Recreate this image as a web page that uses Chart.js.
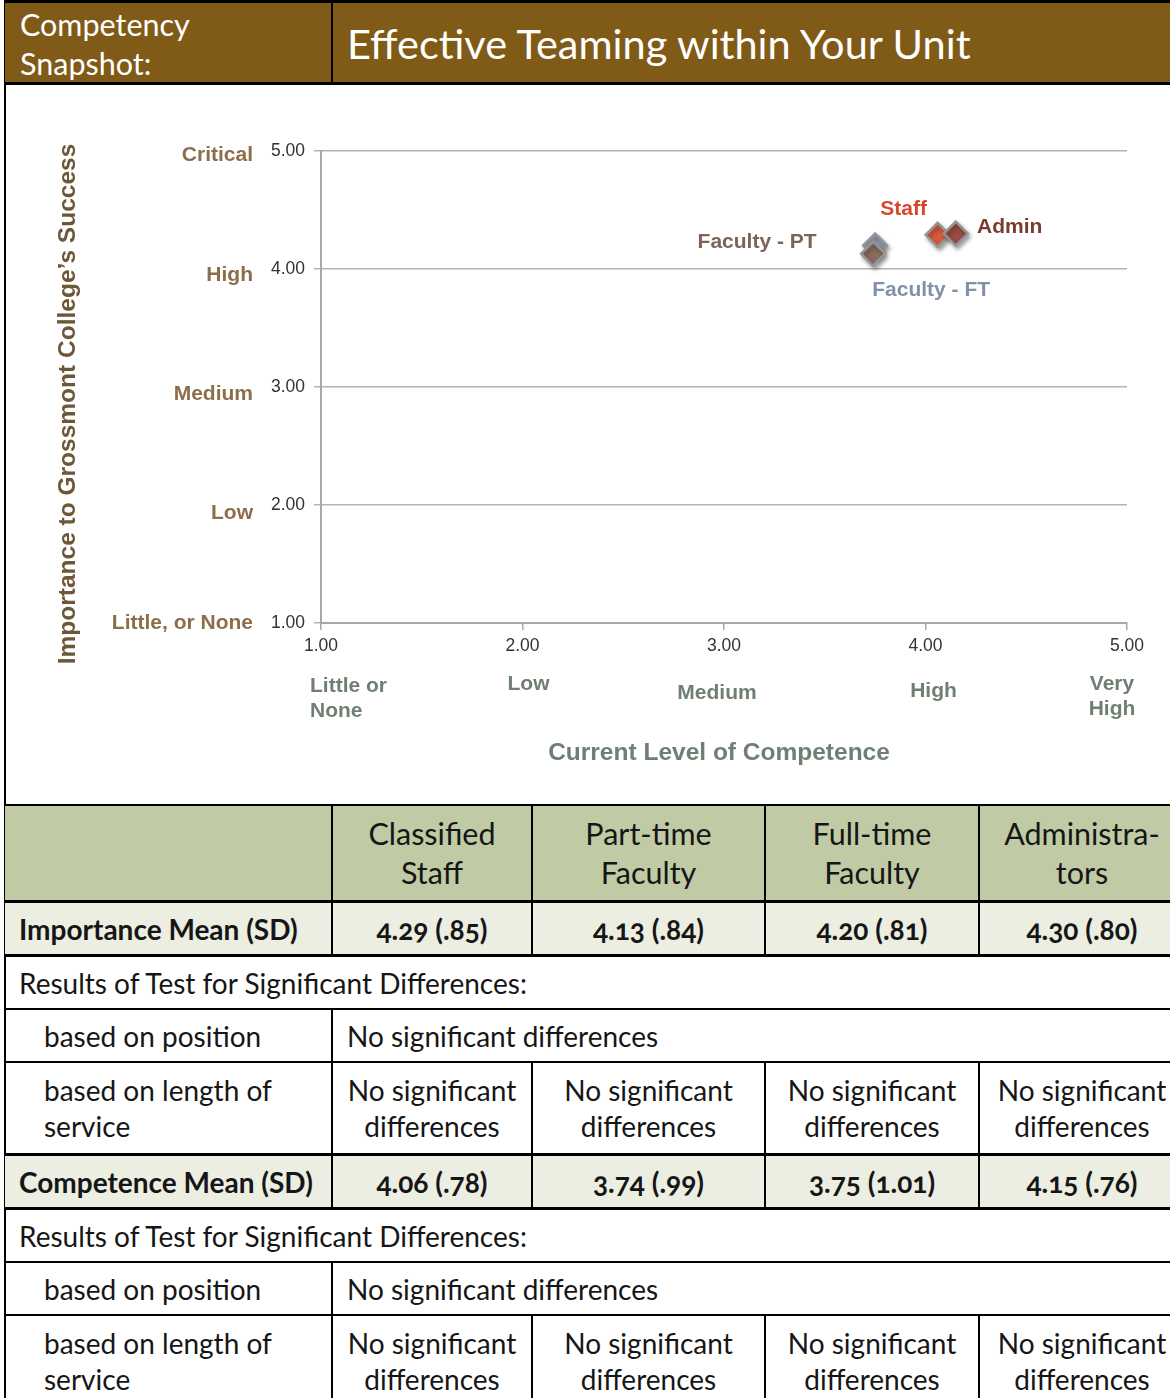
<!DOCTYPE html>
<html>
<head>
<meta charset="utf-8">
<script src="https://cdn.jsdelivr.net/npm/chart.js@4.4.1/dist/chart.umd.min.js"></script>
<style>
  html, body { margin: 0; padding: 0; background: #fff; }
  body { width: 1170px; height: 1398px; overflow: hidden; position: relative; font-family: Lato, "Open Sans", sans-serif; }
  .frame { position: absolute; left: 4px; top: 0; width: 1180px; height: 1420px; border-left: 2px solid #000; border-top: 3px solid #000; box-sizing: border-box; }
  .head { position: absolute; left: 5px; top: 3px; width: 1170px; height: 79px; background: #805b18; border-bottom: 3px solid #000; }
  .head .lbl { position: absolute; left: 15px; top: 2px; color: #fff; font-size: 30.5px; line-height: 39px; }
  .head .sep { position: absolute; left: 326px; top: 0; width: 2px; height: 79px; background: #000; }
  .head .ttl { position: absolute; left: 342px; top: 16px; color: #fff; font-size: 41.5px; line-height: 48px; }
  .chartbox { position: absolute; left: 5px; top: 85px; width: 1165px; height: 719px; }
  table { position: absolute; left: 5px; top: 804px; border-collapse: collapse; table-layout: fixed; width: 1180px; color: #161616; }
  td { border: 2px solid #000; padding: 0; font-size: 28px; }
  tr.hd td { background: #c0cba5; height: 94px; text-align: center; font-size: 30.5px; line-height: 39px; border-bottom: 3px solid #000; }
  tr.mean td { background: #ebeee1; height: 51px; text-align: center; font-weight: bold; font-size: 28px; }
  tr.mean td.rl { text-align: left; padding-left: 14px; }
  tr.res td { height: 51px; padding-left: 14px; }
  tr.pos td { height: 51px; }
  tr.pos td.rl { padding-left: 39px; }
  tr.pos td.v { padding-left: 14px; }
  tr.len td { height: 90px; text-align: center; line-height: 36px; }
  tr.len td.rl { text-align: left; padding-left: 39px; }
  tr.thick td { border-bottom: 3px solid #000; }
  td:first-child { border-left: none; }
  .num { font-feature-settings: "onum" 1; }
</style>
</head>
<body>
<div class="frame"></div>
<div class="head">
  <div class="lbl">Competency<br>Snapshot:</div>
  <div class="sep"></div>
  <div class="ttl">Effective Teaming within Your Unit</div>
</div>
<div class="chartbox"><canvas id="c" width="1165" height="719"></canvas></div>
<table id="tbl"></table>
<script>
// Group means: x = current level of competence, y = importance to the college
const groups = ["Staff", "Faculty - PT", "Faculty - FT", "Admin"];
const competence = [4.06, 3.74, 3.75, 4.15];
const importance = [4.29, 4.13, 4.20, 4.30];

const importanceSD = [".85", ".84", ".81", ".80"];
const competenceSD = [".78", ".99", "1.01", ".76"];

const tickValues = [1, 2, 3, 4, 5];
const importanceLevels = ["Little, or None", "Low", "Medium", "High", "Critical"];
const competenceLevels = [["Little or", "None"], ["Low"], ["Medium"], ["High"], ["Very", "High"]];

const columnHeads = [["Classified", "Staff"], ["Part-time", "Faculty"], ["Full-time", "Faculty"], ["Administra-", "tors"]];
const columnOrder = [0, 1, 2, 3];
const noDiff = "No significant differences";

// marker + label styling per group
const markerFill = ["#d95a3e", "#8a6b5f", "#8fa1b8", "#9a4e42"];
const labelColor = ["#d9472b", "#7c6558", "#8091a8", "#7b3b30"];
const labelShift = [[-34, -26], [-116, -11], [56, 45], [54, -6]];
const drawOrder = [1, 2, 3, 0];

const datasets = groups.map((g, i) => ({
  label: g,
  data: [{ x: competence[i], y: importance[i] }],
  pointStyle: "rectRot",
  radius: 12,
  hoverRadius: 12,
  backgroundColor: markerFill[i],
  borderColor: "#959595",
  borderWidth: 2.5,
  order: drawOrder[i]
}));

const FONT = "'Liberation Sans', Arial, sans-serif";

const annotate = {
  id: "annotate",
  beforeDatasetsDraw(chart) {
    const ctx = chart.ctx;
    ctx.save();
    ctx.shadowColor = "rgba(0,0,0,0.35)";
    ctx.shadowBlur = 4;
    ctx.shadowOffsetX = 2;
    ctx.shadowOffsetY = 3;
  },
  afterDatasetsDraw(chart) {
    const ctx = chart.ctx;
    ctx.restore();
    const xs = chart.scales.x, ys = chart.scales.y;
    ctx.save();
    // group labels beside their markers
    ctx.font = "bold 21px " + FONT;
    ctx.textAlign = "center";
    ctx.textBaseline = "middle";
    groups.forEach((g, i) => {
      const px = xs.getPixelForValue(competence[i]);
      const py = ys.getPixelForValue(importance[i]);
      ctx.fillStyle = labelColor[i];
      ctx.fillText(g, px + labelShift[i][0], py + labelShift[i][1]);
    });
    // importance scale words
    ctx.fillStyle = "#8c6e48";
    ctx.textAlign = "right";
    const yShift = [0, 8, 7, 6, 4];
    importanceLevels.forEach((t, i) => {
      ctx.fillText(t, 248, ys.getPixelForValue(tickValues[i]) + yShift[i]);
    });
    // competence scale words
    ctx.fillStyle = "#6f8073";
    const xShift = [[-11, 63, "left"], [6, 61, "center"], [-7, 70, "center"], [8, 68, "center"], [-15, 61, "center"]];
    competenceLevels.forEach((lines, i) => {
      const px = xs.getPixelForValue(tickValues[i]) + xShift[i][0];
      const py = ys.bottom + xShift[i][1];
      ctx.textAlign = xShift[i][2];
      lines.forEach((ln, k) => ctx.fillText(ln, px, py + k * 25));
    });
    // axis titles
    ctx.textAlign = "center";
    ctx.font = "bold 24.5px " + FONT;
    ctx.fillStyle = "#6f8073";
    ctx.fillText("Current Level of Competence", (xs.left + xs.right) / 2 - 5, ys.bottom + 130);
    ctx.fillStyle = "#6d5738";
    ctx.translate(63, (ys.top + ys.bottom) / 2 + 17);
    ctx.rotate(-Math.PI / 2);
    ctx.fillText("Importance to Grossmont College\u2019s Success", 0, 0);
    ctx.restore();
  }
};

new Chart(document.getElementById("c"), {
  type: "scatter",
  data: { datasets },
  options: {
    responsive: false,
    animation: false,
    events: [],
    layout: { padding: { left: 0, right: 43, top: 66, bottom: 0 } },
    plugins: { legend: { display: false }, tooltip: { enabled: false } },
    scales: {
      x: {
        type: "linear", min: 1, max: 5,
        afterFit(s) { s.height = 181; },
        afterBuildTicks(s) { s.ticks = tickValues.map(v => ({ value: v })); },
        ticks: { callback: v => v.toFixed(2), color: "#333", font: { family: FONT, size: 17.5 }, padding: 6, maxRotation: 0 },
        grid: { drawOnChartArea: false, drawTicks: true, tickLength: 7, color: "#a8a8a8", lineWidth: 1.5 },
        border: { color: "#a8a8a8", width: 2 }
      },
      y: {
        type: "linear", min: 1, max: 5,
        afterFit(s) { s.width = 316; },
        afterBuildTicks(s) { s.ticks = tickValues.map(v => ({ value: v })); },
        ticks: { callback: v => v.toFixed(2), color: "#333", font: { family: FONT, size: 17.5 }, padding: 9 },
        grid: { drawTicks: true, tickLength: 7, color: "#b4b4b4", lineWidth: 1.5 },
        border: { color: "#a8a8a8", width: 2 }
      }
    }
  },
  plugins: [annotate]
});

// summary table
const tbl = document.getElementById("tbl");
const colgroup = `<colgroup><col style="width:327px"><col style="width:200px"><col style="width:233px"><col style="width:214px"><col style="width:206px"></colgroup>`;
const hd = `<tr class="hd"><td></td>${columnOrder.map(i => `<td>${columnHeads[i].join("<br>")}</td>`).join("")}</tr>`;
function block(title, means, sds, cls) {
  return `<tr class="mean thick"><td class="rl">${title}</td>${columnOrder.map(i => `<td class="num">${means[i].toFixed(2)} (${sds[i]})</td>`).join("")}</tr>` +
    `<tr class="res"><td colspan="5">Results of Test for Significant Differences:</td></tr>` +
    `<tr class="pos"><td class="rl">based on position</td><td class="v" colspan="4">${noDiff}</td></tr>` +
    `<tr class="len ${cls}"><td class="rl">based on length of<br>service</td>${columnOrder.map(() => `<td>No significant<br>differences</td>`).join("")}</tr>`;
}
tbl.innerHTML = colgroup + hd + block("Importance Mean (SD)", importance, importanceSD, "thick") + block("Competence Mean (SD)", competence, competenceSD, "");
</script>
</body>
</html>
